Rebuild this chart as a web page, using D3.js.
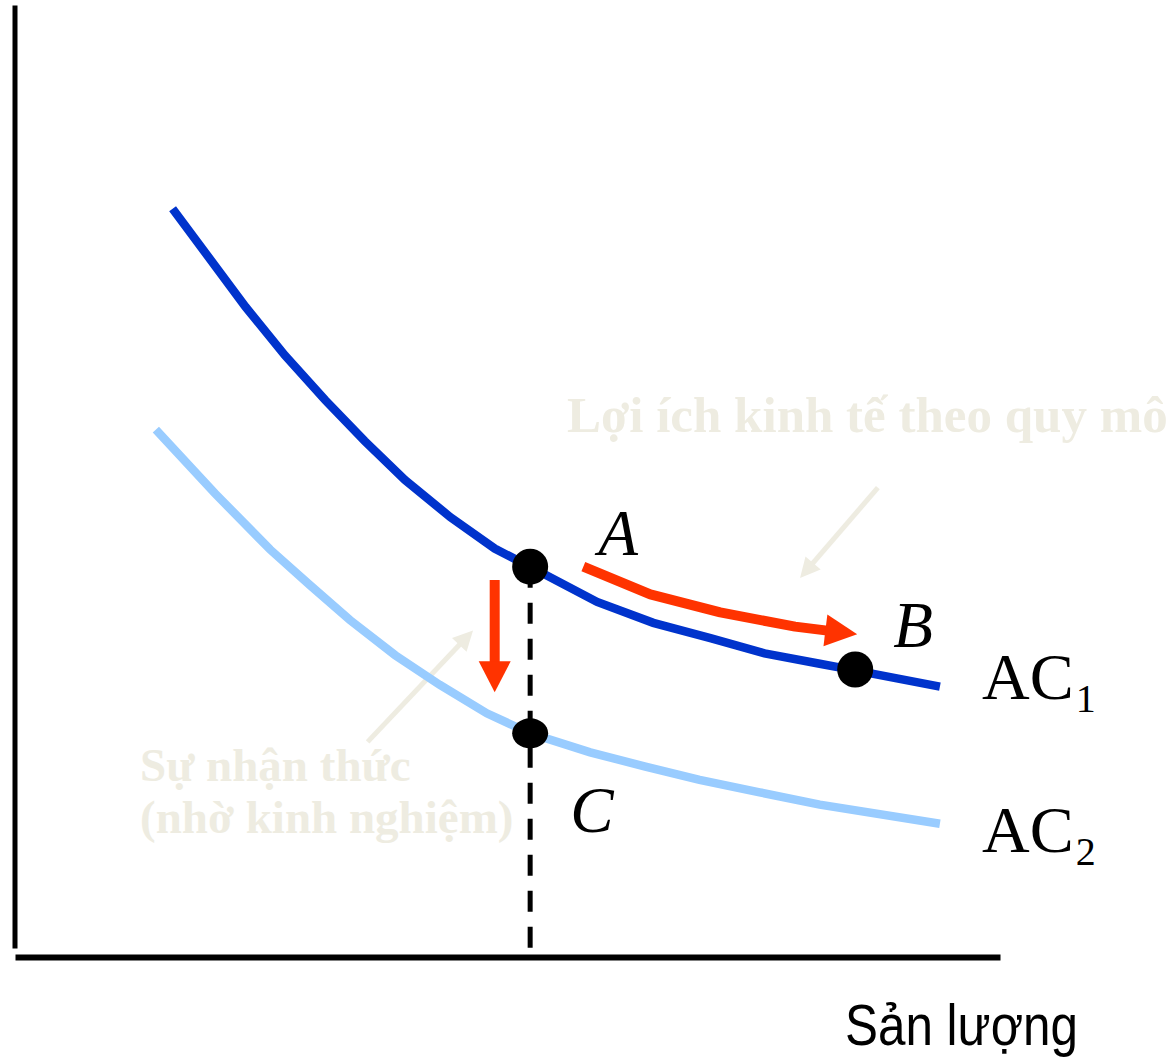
<!DOCTYPE html>
<html>
<head>
<meta charset="utf-8">
<script src="https://cdn.jsdelivr.net/npm/d3@7"></script>
<style>
  html, body { margin: 0; padding: 0; background: #ffffff; }
  svg { display: block; }
</style>
</head>
<body>
<svg id="chart" width="1173" height="1057"></svg>
<script>
// Average cost curves: output (x) and unit cost (y), both on a 0–100 scale
const ac1Output = [16.0, 23.4, 27.4, 31.5, 35.5, 39.6, 44.2, 48.7, 52.3, 59.1, 64.8, 70.6, 76.1, 81.7, 85.3, 93.9];
const ac1Cost   = [78.6, 68.3, 63.2, 58.5, 54.2, 50.1, 46.2, 42.9, 41.0, 37.3, 35.1, 33.5, 31.9, 30.8, 30.1, 28.4];
const ac2Output = [14.3, 20.3, 25.9, 29.9, 34.0, 38.6, 43.1, 47.9, 52.3, 58.4, 64.0, 69.5, 75.6, 81.7, 93.9];
const ac2Cost   = [55.4, 48.7, 42.8, 39.1, 35.4, 31.7, 28.6, 25.6, 23.5, 21.5, 20.0, 18.6, 17.3, 16.0, 14.0];

// Marked positions on the curves
const pointNames  = ["A", "B", "C"];
const pointOutput = [52.3, 85.3, 52.3];
const pointCost   = [41.0, 30.2, 23.5];

// Movement along AC1 (economies of scale), A towards B
const scaleMoveOutput = [57.7, 64.5, 71.6, 79.2, 85.5];
const scaleMoveCost   = [41.0, 38.1, 36.2, 34.7, 33.9];
// Downward shift from AC1 to AC2 (learning)
const learnMoveOutput = [48.7, 48.7];
const learnMoveCost   = [39.6, 27.8];

// Pointer arrows for the two notes
const scaleNoteOutput = [87.6, 79.7];
const scaleNoteCost   = [49.3, 39.8];
const learnNoteOutput = [35.8, 46.5];
const learnNoteCost   = [22.6, 34.3];

const noteScale = "Lợi ích kinh tế theo quy mô";
const noteLearn = ["Sự nhận thức", "(nhờ kinh nghiệm)"];
const xTitle = "Sản lượng";

const svg = d3.select("#chart");

const x = d3.scaleLinear().domain([0, 100]).range([15, 1000]);
const y = d3.scaleLinear().domain([0, 100]).range([957, 5]);

const BLUE = "#0033cc", LIGHT = "#99ccff", RED = "#ff3300", BEIGE = "#eeece1";

// Axes: plain lines with no ticks
const yAxisScale = y.copy().range([948, 5]);
svg.append("g")
  .attr("transform", `translate(${x(0) - 0.5},0)`)
  .call(d3.axisLeft(yAxisScale).tickValues([]).tickSizeOuter(0))
  .select(".domain").attr("stroke", "#000").attr("stroke-width", 5);

svg.append("g")
  .attr("transform", `translate(0,${y(0)})`)
  .call(d3.axisBottom(x.copy().range([15, 1000])).tickValues([]).tickSizeOuter(0))
  .select(".domain").attr("stroke", "#000").attr("stroke-width", 6);

const line = d3.line().x(d => x(d[0])).y(d => y(d[1]));
const zip = (a, b) => a.map((v, i) => [v, b[i]]);

// Helper: draw a shaft that stops at the head base, then a triangular head
function arrow(xs, ys, color, width, headLen, headHalf) {
  const pts = zip(xs, ys).map(d => [x(d[0]), y(d[1])]);
  const tip = pts[pts.length - 1];
  const prev = pts[pts.length - 2];
  const dx = tip[0] - prev[0], dy = tip[1] - prev[1];
  const len = Math.hypot(dx, dy);
  const ux = dx / len, uy = dy / len;
  const base = [tip[0] - ux * headLen, tip[1] - uy * headLen];
  const shaft = pts.slice(0, -1).concat([[base[0] + ux * 2, base[1] + uy * 2]]);
  svg.append("path")
    .attr("d", d3.line()(shaft))
    .attr("fill", "none").attr("stroke", color)
    .attr("stroke-width", width).attr("stroke-linejoin", "round");
  const px = -uy, py = ux;
  svg.append("path")
    .attr("d", d3.line()([
      tip,
      [base[0] + px * headHalf, base[1] + py * headHalf],
      [base[0] - px * headHalf, base[1] - py * headHalf]
    ]) + "Z")
    .attr("fill", color);
}

// Note pointers (drawn first, underneath the curves)
arrow(scaleNoteOutput, scaleNoteCost, BEIGE, 5, 20, 10);
arrow(learnNoteOutput, learnNoteCost, BEIGE, 5, 20, 10);

// Dashed guide from A down to the output axis
svg.append("line")
  .attr("x1", x(pointOutput[0])).attr("x2", x(pointOutput[0]))
  .attr("y1", y(pointCost[0])).attr("y2", 948)
  .attr("stroke", "#000").attr("stroke-width", 5)
  .attr("stroke-dasharray", "21,15");

// Cost curves
svg.append("path")
  .attr("d", line(zip(ac2Output, ac2Cost)))
  .attr("fill", "none").attr("stroke", LIGHT).attr("stroke-width", 8.5);
svg.append("path")
  .attr("d", line(zip(ac1Output, ac1Cost)))
  .attr("fill", "none").attr("stroke", BLUE).attr("stroke-width", 8.5);

// Movement arrows
arrow(scaleMoveOutput, scaleMoveCost, RED, 10, 32, 16);
arrow(learnMoveOutput, learnMoveCost, RED, 10, 31, 16);

// Points
const pts = pointNames.map((n, i) => ({ name: n, x: pointOutput[i], y: pointCost[i] }));
svg.selectAll("ellipse.pt").data(pts).enter().append("ellipse")
  .attr("class", "pt")
  .attr("cx", d => x(d.x)).attr("cy", d => y(d.y))
  .attr("rx", 18).attr("ry", d => d.name === "C" ? 15 : 18)
  .attr("fill", "#000");

// Point labels
const labelOffset = { A: [68, -12], B: [38, -22], C: [40, 99] };
svg.selectAll("text.pt").data(pts).enter().append("text")
  .attr("class", "pt")
  .attr("x", d => x(d.x) + labelOffset[d.name][0])
  .attr("y", d => y(d.y) + labelOffset[d.name][1])
  .attr("font-family", "'Liberation Serif', serif")
  .attr("font-style", "italic")
  .attr("font-size", 65)
  .attr("fill", "#000")
  .text(d => d.name);

// Curve labels
const curveLabels = [
  { sub: "1", cost: ac1Cost[ac1Cost.length - 1], dy: 12 },
  { sub: "2", cost: ac2Cost[ac2Cost.length - 1], dy: 28 }
];
curveLabels.forEach(c => {
  const t = svg.append("text")
    .attr("x", 982).attr("y", y(c.cost) + c.dy)
    .attr("font-family", "'Liberation Serif', serif")
    .attr("font-size", 66).attr("fill", "#000");
  t.append("tspan").text("AC");
  t.append("tspan").attr("font-size", 40).attr("dy", 13).attr("dx", 2).text(c.sub);
});

// Notes
svg.append("text")
  .attr("x", 567).attr("y", 432)
  .attr("font-family", "'Liberation Serif', serif")
  .attr("font-weight", "bold").attr("font-size", 51)
  .attr("fill", BEIGE)
  .text(noteScale);

svg.selectAll("text.learn").data(noteLearn).enter().append("text")
  .attr("class", "learn")
  .attr("x", 140).attr("y", (d, i) => 781 + i * 52)
  .attr("font-family", "'Liberation Serif', serif")
  .attr("font-weight", "bold").attr("font-size", 47)
  .attr("fill", BEIGE)
  .text(d => d);

// Output axis title
svg.append("text")
  .attr("x", 845).attr("y", 1045)
  .attr("font-family", "'Liberation Sans', sans-serif")
  .attr("font-size", 58)
  .attr("textLength", 233).attr("lengthAdjust", "spacingAndGlyphs")
  .attr("fill", "#000")
  .text(xTitle);
</script>
</body>
</html>
